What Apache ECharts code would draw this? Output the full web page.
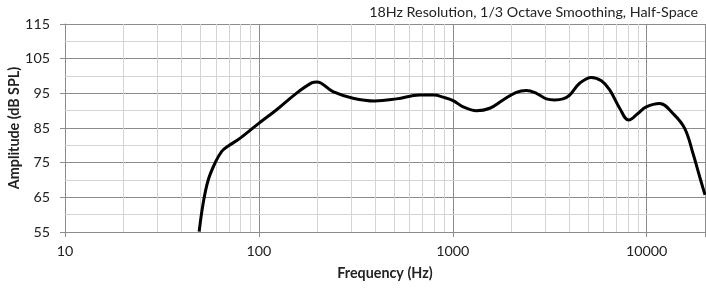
<!DOCTYPE html>
<html>
<head>
<meta charset="utf-8">
<script src="https://cdn.jsdelivr.net/npm/echarts@6/dist/echarts.min.js"></script>
<style>html,body{margin:0;padding:0;background:#fff}#c{width:706px;height:288px}</style>
</head>
<body>
<div id="c"></div>
<script>
const freqHz = [49.2, 51.6, 54.8, 59.3, 64.2, 69.5, 79.8, 99.1, 123, 156, 187, 199, 241, 306, 396, 513, 676, 800, 891, 1004, 1131, 1324, 1552, 1817, 2129, 2397, 2700, 3040, 3356, 3700, 4009, 4515, 5190, 5844, 6447, 7260, 8078, 9020, 9955, 11660, 13670, 15710, 17330, 18760, 20000];
const amplitudeDb = [55.1, 63.3, 70.0, 74.8, 78.2, 79.8, 82.0, 86.2, 90.2, 95.0, 98.0, 98.3, 95.5, 93.6, 92.8, 93.4, 94.5, 94.5, 93.9, 92.9, 91.1, 90.0, 90.7, 93.1, 95.3, 95.8, 95.0, 93.4, 93.1, 93.4, 94.5, 97.9, 99.6, 98.6, 96.0, 90.7, 87.3, 89.2, 91.1, 92.1, 89.2, 84.9, 77.7, 71.0, 65.7];
const yTicks = [55, 65, 75, 85, 95, 105, 115];
const yMinor = [60, 70, 80, 90, 100, 110];
const xDecades = [10, 100, 1000, 10000];
const xMinor = [20,30,40,50,60,70,80,90,200,300,400,500,600,700,800,900,2000,3000,4000,5000,6000,7000,8000,9000];
const titleText = '18Hz Resolution, 1/3 Octave Smoothing, Half-Space';

const FONT = 'Lato';
const FS = 14.3;
const chart = echarts.init(document.getElementById('c'));
const minorLines = xMinor.map(v => ({xAxis: v})).concat(yMinor.map(v => ({yAxis: v})));
chart.setOption({
  animation: false,
  title: {text: titleText, right: 3, top: 0, textStyle: {fontFamily: FONT, fontSize: FS, fontWeight: 'normal', color: '#222'}},
  grid: {left: 65, right: 1, top: 24, bottom: 56, containLabel: false, outerBoundsMode: 'none'},
  xAxis: {
    type: 'log', logBase: 10, min: 10, max: 20000,
    name: 'Frequency (Hz)', nameLocation: 'middle', nameGap: 34, nameMoveOverlap: false,
    nameTextStyle: {fontFamily: FONT, fontSize: FS, fontWeight: 'bold', color: '#222'},
    axisLine: {show: true, lineStyle: {color: '#8c8c8c', width: 1}},
    axisTick: {show: true, length: 5, lineStyle: {color: '#8c8c8c'}},
    axisLabel: {fontFamily: FONT, fontSize: FS, color: '#222', margin: 12,
      formatter: v => xDecades.includes(Math.round(v)) ? String(Math.round(v)) : ''},
    splitLine: {show: true, lineStyle: {color: '#8c8c8c', width: 1}}
  },
  yAxis: {
    type: 'value', min: 55, max: 115, interval: 10,
    name: 'Amplitude (dB SPL)', nameLocation: 'middle', nameGap: 44, nameMoveOverlap: false,
    nameTextStyle: {fontFamily: FONT, fontSize: FS, fontWeight: 'bold', color: '#222'},
    axisLine: {show: true, lineStyle: {color: '#8c8c8c', width: 1}},
    axisTick: {show: true, length: 5, lineStyle: {color: '#8c8c8c'}},
    axisLabel: {fontFamily: FONT, fontSize: FS, color: '#222', margin: 15},
    splitLine: {show: true, lineStyle: {color: '#8c8c8c', width: 1}}
  },
  series: [
    {
      type: 'line', data: [], z: 1, silent: true,
      markLine: {silent: true, symbol: 'none', label: {show: false},
        lineStyle: {color: '#d4d4d4', width: 1, type: 'solid'}, emphasis: {disabled: true},
        data: minorLines}
    },
    {
      type: 'line', z: 5, smooth: 0.4, showSymbol: false, symbol: 'none',
      lineStyle: {color: '#000', width: 3},
      data: freqHz.map((f, i) => [f, amplitudeDb[i]])
    }
  ]
});
</script>
</body>
</html>
